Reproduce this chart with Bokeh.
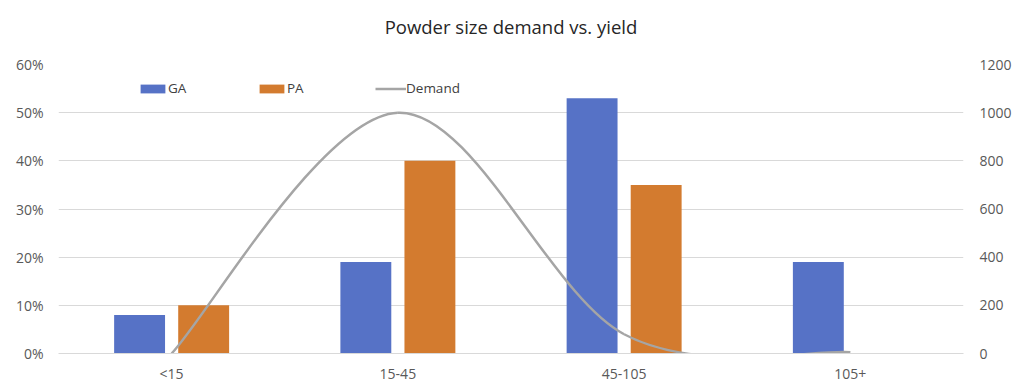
import numpy as np
from bokeh.plotting import figure
from bokeh.models import (Range1d, LinearAxis, FixedTicker, NumeralTickFormatter,
                          Legend, LegendItem, ColumnDataSource, Title)
from bokeh.embed import file_html
from bokeh.resources import INLINE

categories = ["<15", "15-45", "45-105", "105+"]
ga = [0.08, 0.19, 0.53, 0.19]
pa = [0.10, 0.40, 0.35, 0.0]
demand = [0, 1000, 80, 5]
left_ticks = [0, 0.1, 0.2, 0.3, 0.4, 0.5, 0.6]
right_ticks = [0, 200, 400, 600, 800, 1000, 1200]

BLUE = "#5672C6"
ORANGE = "#D37B2F"
GRAY = "#A5A5A5"
LABEL = "#595959"
GRID = "#D9D9D9"
FONT = "Open Sans"

xc = np.arange(len(categories)) + 0.5

p = figure(width=1024, height=390, output_backend="svg", toolbar_location=None,
           x_range=Range1d(0, len(categories)), y_range=Range1d(0, 0.6),
           min_border_left=58, min_border_right=61, min_border_top=64,
           min_border_bottom=37)
p.extra_y_ranges = {"demand": Range1d(0, 1200)}
p.outline_line_color = None
p.background_fill_color = "white"

p.title.text = "Powder size demand vs. yield"
p.title.align = "center"
p.title.vertical_align = "top"
p.title.text_font = FONT
p.title.text_font_size = "18.5px"
p.title.text_font_style = "normal"
p.title.text_color = "#262626"
p.title.standoff = 24
# small spacer between the title and the plot area
p.add_layout(Title(text=" ", text_font_size="1px", standoff=9), "above")

off = 0.1416
bw = 0.225
r_ga = p.vbar(x=xc - off, top=ga, width=bw, fill_color=BLUE, line_color=None)
r_pa = p.vbar(x=xc + off, top=pa, width=bw, fill_color=ORANGE, line_color=None)

# smooth (Excel-style) curve through demand points using cubic beziers
pts = list(zip(xc, demand))
n = len(pts)
x0s, y0s, x1s, y1s, cx0s, cy0s, cx1s, cy1s = [], [], [], [], [], [], [], []
for i in range(n - 1):
    pm = pts[i - 1] if i > 0 else pts[i]
    pa_ = pts[i]
    pb = pts[i + 1]
    pn = pts[i + 2] if i + 2 < n else pts[i + 1]
    x0s.append(pa_[0]); y0s.append(pa_[1])
    x1s.append(pb[0]); y1s.append(pb[1])
    cx0s.append(pa_[0] + (pb[0] - pm[0]) / 6); cy0s.append(pa_[1] + (pb[1] - pm[1]) / 6)
    cx1s.append(pb[0] - (pn[0] - pa_[0]) / 6); cy1s.append(pb[1] - (pn[1] - pa_[1]) / 6)
src = ColumnDataSource(dict(x0=x0s, y0=y0s, x1=x1s, y1=y1s,
                            cx0=cx0s, cy0=cy0s, cx1=cx1s, cy1=cy1s))
r_dem = p.bezier(x0="x0", y0="y0", x1="x1", y1="y1", cx0="cx0", cy0="cy0",
                 cx1="cx1", cy1="cy1", source=src, line_color=GRAY, line_width=2.5,
                 y_range_name="demand")

# axes
p.xaxis.ticker = FixedTicker(ticks=list(xc))
p.xaxis.major_label_overrides = {float(x): c for x, c in zip(xc, categories)}
p.xaxis.axis_line_color = GRID
p.xaxis.major_tick_line_color = None
p.xaxis.minor_tick_line_color = None
p.xaxis.major_tick_out = 0
p.xaxis.major_tick_in = 0
p.xaxis.major_label_standoff = 10
p.xaxis.major_label_text_font = FONT
p.xaxis.major_label_text_font_size = "14px"
p.xaxis.major_label_text_color = LABEL

p.yaxis.ticker = FixedTicker(ticks=left_ticks)
p.yaxis.formatter = NumeralTickFormatter(format="0%")
p.yaxis.axis_line_color = None
p.yaxis.major_tick_line_color = None
p.yaxis.minor_tick_line_color = None
p.yaxis.major_tick_out = 0
p.yaxis.major_tick_in = 0
p.yaxis.major_label_standoff = 15
p.yaxis.major_label_text_font = FONT
p.yaxis.major_label_text_font_size = "14px"
p.yaxis.major_label_text_color = LABEL

ax_r = LinearAxis(y_range_name="demand", ticker=FixedTicker(ticks=right_ticks))
ax_r.axis_line_color = None
ax_r.major_tick_line_color = None
ax_r.minor_tick_line_color = None
ax_r.major_tick_out = 0
ax_r.major_tick_in = 0
ax_r.major_label_standoff = 16
ax_r.major_label_text_font = FONT
ax_r.major_label_text_font_size = "14px"
ax_r.major_label_text_color = LABEL
p.add_layout(ax_r, "right")

p.xgrid.grid_line_color = None
p.ygrid.ticker = FixedTicker(ticks=left_ticks)
p.ygrid.grid_line_color = GRID
p.ygrid.grid_line_width = 1

legend = Legend(items=[LegendItem(label="GA", renderers=[r_ga]),
                       LegendItem(label="PA", renderers=[r_pa]),
                       LegendItem(label="Demand", renderers=[r_dem])],
                orientation="horizontal", location=(79, 256),
                glyph_width=31, glyph_height=11, label_standoff=0, label_width=88,
                label_height=11, spacing=0, padding=0, margin=0,
                border_line_alpha=0, background_fill_alpha=0,
                label_text_font=FONT, label_text_font_size="13.5px",
                label_text_color="#404040")
p.add_layout(legend, "center")

open("out.html", "w").write(file_html(p, INLINE))
